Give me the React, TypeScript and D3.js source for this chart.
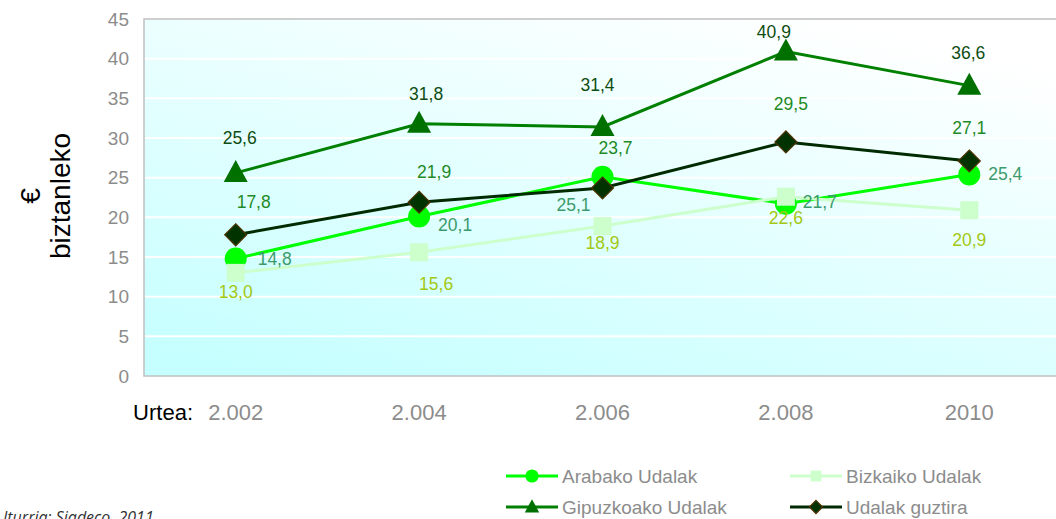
import React from 'react';
import * as d3 from 'd3';

// years shown on the x axis
const years = ['2.002', '2.004', '2.006', '2.008', '2010'];

const arabako = [14.8, 20.1, 25.1, 21.7, 25.4];
const bizkaiko = [13.0, 15.6, 18.9, 22.6, 20.9];
const gipuzkoa = [25.6, 31.8, 31.4, 40.9, 36.6];
const guztira = [17.8, 21.9, 23.7, 29.5, 27.1];

const yTicks = [0, 5, 10, 15, 20, 25, 30, 35, 40, 45];

// hand-placed label nudges (px, relative to the marker)
const arabakoLabelDx = [39, 36, -29, 34, 36];
const arabakoLabelDy = [0, 8, 28, -2, -1];
const bizkaikoLabelDx = [0, 17, 0, 0, 0];
const bizkaikoLabelDy = [19, 32, 17, 21, 30];
const gipuzkoaLabelDx = [4, 7, -5, -12, -1];
const gipuzkoaLabelDy = [-35, -30, -42, -20, -33];
const guztiraLabelDx = [18, 15, 13, 5, 0];
const guztiraLabelDy = [-33, -30, -40, -38, -33];

const W = 1056;
const H = 519;
const margin = { top: 19, left: 144, bottom: 376, right: 1061 };

const fmt = (v: number) => v.toFixed(1).replace('.', ',');

type Shape = 'circle' | 'square' | 'triangle' | 'diamond';

interface Series {
  name: string;
  values: number[];
  line: string;
  fill: string;
  stroke?: string;
  shape: Shape;
  labelColor: string;
  dx: number[];
  dy: number[];
}

const series: Series[] = [
  { name: 'Arabako Udalak', values: arabako, line: '#00ff00', fill: '#00ff00', shape: 'circle', labelColor: '#3c9a6c', dx: arabakoLabelDx, dy: arabakoLabelDy },
  { name: 'Bizkaiko Udalak', values: bizkaiko, line: '#ccffcc', fill: '#ccffcc', shape: 'square', labelColor: '#a3c814', dx: bizkaikoLabelDx, dy: bizkaikoLabelDy },
  { name: 'Gipuzkoako Udalak', values: gipuzkoa, line: '#008000', fill: '#007000', shape: 'triangle', labelColor: '#0e4d12', dx: gipuzkoaLabelDx, dy: gipuzkoaLabelDy },
  { name: 'Udalak guztira', values: guztira, line: '#002a00', fill: '#003300', stroke: '#4d3300', shape: 'diamond', labelColor: '#1f8a26', dx: guztiraLabelDx, dy: guztiraLabelDy },
];

const Marker: React.FC<{ shape: Shape; x: number; y: number; fill: string; stroke?: string; size?: number }> = ({ shape, x, y, fill, stroke, size = 1 }) => {
  if (shape === 'circle') return <circle cx={x} cy={y} r={11 * size} fill={fill} />;
  if (shape === 'square') {
    const s = 18 * size;
    return <rect x={x - s / 2} y={y - s / 2} width={s} height={s} fill={fill} />;
  }
  if (shape === 'triangle') {
    const w = 24 * size, h = 22 * size;
    return <path d={`M${x},${y - h / 2 - 2 * size}L${x + w / 2},${y + h / 2 - 2 * size}L${x - w / 2},${y + h / 2 - 2 * size}Z`} fill={fill} />;
  }
  const d = 11 * size;
  return <path d={`M${x},${y - d}L${x + d},${y}L${x},${y + d}L${x - d},${y}Z`} fill={fill} stroke={stroke} strokeWidth={1.2} />;
};

export default function App() {
  const x = d3.scaleBand<string>().domain(years).range([margin.left, margin.right]);
  const cx = (i: number) => (x(years[i]) || 0) + x.bandwidth() / 2;
  const y = d3.scaleLinear().domain([0, 45]).range([margin.bottom, margin.top]);
  const font = '"Liberation Sans", Arial, sans-serif';

  const legend = [
    { s: series[0], x: 506, y: 476 },
    { s: series[1], x: 790, y: 476 },
    { s: series[2], x: 506, y: 507 },
    { s: series[3], x: 790, y: 507 },
  ];

  return (
    <svg width={W} height={H} style={{ position: 'absolute', left: 0, top: 0 }} fontFamily={font}>
      <defs>
        <linearGradient id="bg" x1="0.15" y1="1" x2="0.75" y2="0">
          <stop offset="0" stopColor="#c6ffff" />
          <stop offset="1" stopColor="#ffffff" />
        </linearGradient>
      </defs>
      <rect width={W} height={H} fill="#fff" />
      <rect x={margin.left} y={margin.top} width={margin.right - margin.left} height={margin.bottom - margin.top}
        fill="url(#bg)" stroke="#c0c0c0" strokeWidth={1.5} />
      {yTicks.filter(t => t > 0 && t < 45).map(t => (
        <line key={t} x1={margin.left + 1} x2={margin.right} y1={y(t)} y2={y(t)} stroke="#fff" strokeWidth={2} />
      ))}
      {yTicks.map(t => (
        <text key={t} x={129} y={y(t)} dy="0.35em" textAnchor="end" fontSize={19} fill="#8c8c8c">{t}</text>
      ))}
      {years.map((yr, i) => (
        <text key={yr} x={cx(i)} y={412} dy="0.35em" textAnchor="middle" fontSize={22} fill="#8c8c8c">{yr}</text>
      ))}
      <text x={193} y={412} dy="0.35em" textAnchor="end" fontSize={22} fill="#000">Urtea:</text>

      <text transform="translate(30,196) rotate(-90)" textAnchor="middle" dy="0.35em" fontSize={28} fill="#000">€</text>
      <text transform="translate(60,196) rotate(-90)" textAnchor="middle" dy="0.35em" fontSize={28} fill="#000">biztanleko</text>

      {series.map(s => {
        const line = d3.line<number>().x((_, i) => cx(i)).y(v => y(v));
        return (
          <g key={s.name}>
            <path d={line(s.values) || ''} fill="none" stroke={s.line} strokeWidth={3} />
            {s.values.map((v, i) => (
              <Marker key={i} shape={s.shape} x={cx(i)} y={y(v)} fill={s.fill} stroke={s.stroke} />
            ))}
          </g>
        );
      })}
      {series.map(s => s.values.map((v, i) => (
        <text key={s.name + i} x={cx(i) + s.dx[i]} y={y(v) + s.dy[i]} dy="0.35em" textAnchor="middle" fontSize={17.5} fill={s.labelColor}>{fmt(v)}</text>
      )))}

      {legend.map(({ s, x: lx, y: ly }) => (
        <g key={s.name}>
          <line x1={lx} x2={lx + 52} y1={ly} y2={ly} stroke={s.line} strokeWidth={3} />
          <Marker shape={s.shape} x={lx + 26} y={ly} fill={s.fill} stroke={s.stroke} size={0.6} />
          <text x={lx + 56} y={ly} dy="0.35em" fontSize={19} fill="#8c8c8c">{s.name}</text>
        </g>
      ))}

      <text x={3} y={523} fontSize={16} fontStyle="italic" fontFamily='"Open Sans", sans-serif' fill="#333">Iturria: Siadeco, 2011</text>
    </svg>
  );
}
